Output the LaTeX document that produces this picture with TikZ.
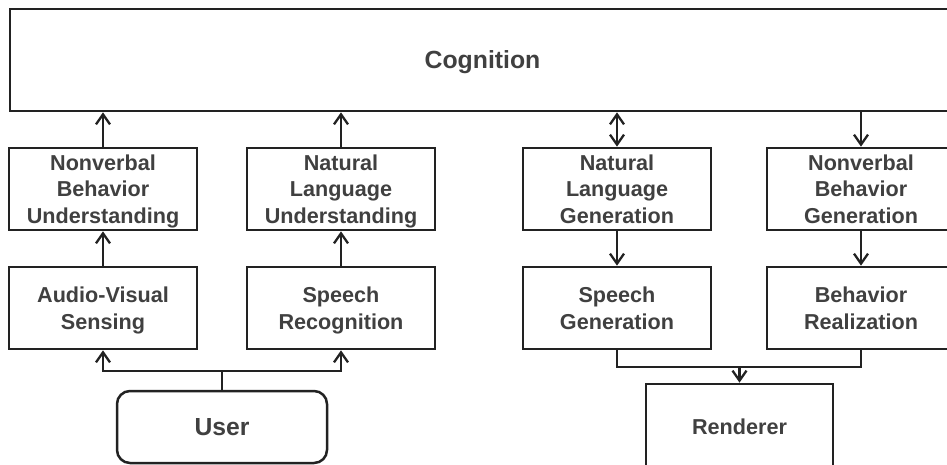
\documentclass[tikz,border=0pt]{standalone}
\usepackage{fontspec}
\setmainfont{Liberation Sans}
\usetikzlibrary{arrows.meta}
\definecolor{txt}{HTML}{404040}
\definecolor{ln}{HTML}{222222}
\begin{document}
\begin{tikzpicture}[x=1pt,y=-1pt,
  box/.style={draw=ln, line width=2.7pt, minimum width=188pt, minimum height=82pt,
    align=center, font=\fontsize{21.6}{26.5}\selectfont\bfseries, text=txt, inner sep=0pt,
    text depth=0pt},
  tip/.tip={Straight Barb[length=10pt, width=14pt, line width=2.3pt]},
  conn/.style={draw=ln, line width=2.3pt, -tip},
  plain/.style={draw=ln, line width=2.3pt}
]
\useasboundingbox (0,0) rectangle (947,465);
\clip (0,0) rectangle (947,465);

\node[box, minimum width=945pt, minimum height=102pt, font=\fontsize{24.8}{28}\selectfont\bfseries] (cog) at (482.5,60) {Cognition};

\node[box] (nbu) at (103,189) {Nonverbal\\Behavior\\Understanding};
\node[box] (nlu) at (341,189) {Natural\\Language\\Understanding};
\node[box] (avs) at (103,308) {Audio-Visual\\Sensing};
\node[box] (sr)  at (341,308) {Speech\\Recognition};

\node[box] (nlg) at (617,189) {Natural\\Language\\Generation};
\node[box] (nbg) at (861,189) {Nonverbal\\Behavior\\Generation};
\node[box] (sg)  at (617,308) {Speech\\Generation};
\node[box] (br)  at (861,308) {Behavior\\Realization};

\node[box, minimum width=210pt, minimum height=72pt, rounded corners=13pt, line width=2.5pt,
  font=\fontsize{24.7}{30}\selectfont\bfseries] (user) at (222,427) {User};
\node[box, minimum width=187pt, minimum height=86pt] (ren) at (739.5,427) {Renderer};

% left side
\draw[conn] (nbu.north) -- (nbu.north |- cog.south);
\draw[conn] (nlu.north) -- (nlu.north |- cog.south);
\draw[conn] (avs.north) -- (nbu.south);
\draw[conn] (sr.north) -- (nlu.south);
\coordinate (uj) at (222,371);
\draw[plain] (user.north) -- (uj);
\draw[conn] (uj) -| (avs.south);
\draw[conn] (uj) -| (sr.south);

% right side
\draw[conn, tip-tip] (nlg.north) -- (nlg.north |- cog.south);
\draw[conn] (nbg.north |- cog.south) -- (nbg.north);
\draw[conn] (nlg.south) -- (sg.north);
\draw[conn] (nbg.south) -- (br.north);
\coordinate (rj) at (739.5,367);
\draw[plain] (sg.south) |- (rj);
\draw[plain] (br.south) |- (rj);
\draw[conn] (rj) -- (ren.north);
\end{tikzpicture}
\end{document}
